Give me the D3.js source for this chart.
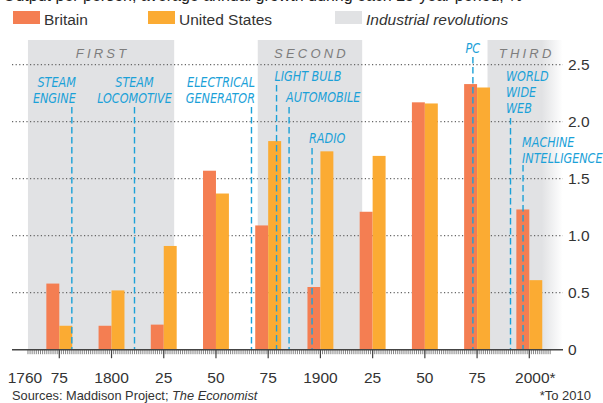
<!DOCTYPE html>
<html>
<head>
<meta charset="utf-8">
<script src="https://cdn.jsdelivr.net/npm/d3@7"></script>
<style>
  body { margin: 0; background: #fff; }
  svg { display: block; }
  text { font-family: "Liberation Sans", Arial, sans-serif; }
  .narrow { font-family: "DejaVu Sans Condensed", "DejaVu Sans", sans-serif; }
</style>
</head>
<body>
<svg id="chart" width="603" height="403"></svg>
<script>
// data: average annual growth of GDP per person, % (25-year periods)
var periods = [1775, 1800, 1825, 1850, 1875, 1900, 1925, 1950, 1975, 2000];
var britain = [0.58, 0.21, 0.22, 1.57, 1.09, 0.55, 1.21, 2.17, 2.33, 1.23];
var unitedStates = [0.21, 0.52, 0.91, 1.37, 1.83, 1.74, 1.70, 2.16, 2.30, 0.61];

// industrial revolutions (years)
var revNames = ["FIRST", "SECOND", "THIRD"];
var revStart = [1760, 1870, 1980];
var revEnd = [1830, 1920, 2016];

// innovations
var innovNames = [["STEAM", "ENGINE"], ["STEAM", "LOCOMOTIVE"], ["ELECTRICAL", "GENERATOR"],
  ["LIGHT BULB"], ["AUTOMOBILE"], ["RADIO"], ["PC"], ["WORLD", "WIDE", "WEB"],
  ["MACHINE", "INTELLIGENCE"]];
var innovYears = [1781, 1811, 1867, 1879, 1885, 1896, 1973, 1991, 1997];

var yTicks = [0, 0.5, 1, 1.5, 2, 2.5];
var xTicks = [1775, 1800, 1825, 1850, 1875, 1900, 1925, 1950, 1975, 2000];
var xTickLabels = ["75", "1800", "25", "50", "75", "1900", "25", "50", "75", "2000*"];

// label placement for innovations: text anchor, x offset, first baseline, dash top
var innovLayout = [
  { anchor: "end", dx: 4, base: 87, top: 107 },
  { anchor: "middle", dx: 0, base: 87, top: 107 },
  { anchor: "end", dx: 3.5, base: 87, top: 107 },
  { anchor: "start", dx: -2, base: 81.5, top: 85 },
  { anchor: "start", dx: -3, base: 102.5, top: 107 },
  { anchor: "start", dx: -3, base: 143, top: 148 },
  { anchor: "middle", dx: 0, base: 53, top: 57 },
  { anchor: "start", dx: -4.5, base: 81, top: 118 },
  { anchor: "start", dx: -1, base: 147, top: 165 }
];
var squeeze = 0.86;  // the original labels use a narrow face

var colBritain = "#f47e52", colUS = "#fbab33", colShade = "#e1e2e4", colBlue = "#1ba1d8";

var svg = d3.select("#chart");

var x = d3.scaleLinear().domain([1775, 2000]).range([59.3, 529.3]);
var y = d3.scaleLinear().domain([0, 2.5]).range([349.7, 64.7]);
var barYears = 6.2;

// subtitle, cut off by the top edge of the crop
svg.append("text")
  .attr("x", 3).attr("y", 0.5)
  .attr("font-size", 16).attr("fill", "#222")
  .text("Output per person, average annual growth during each 25-year period, %");

// legend
var legend = [
  { label: "Britain", color: colBritain, x: 13, italic: false },
  { label: "United States", color: colUS, x: 148, italic: false },
  { label: "Industrial revolutions", color: colShade, x: 335, italic: true }
];
var lg = svg.append("g").selectAll("g").data(legend).enter().append("g");
lg.append("rect")
  .attr("x", function(d) { return d.x; }).attr("y", 11)
  .attr("width", 27).attr("height", 13)
  .attr("fill", function(d) { return d.color; });
lg.append("text")
  .attr("x", function(d) { return d.x + 31; }).attr("y", 24.5)
  .attr("font-size", 15.5).attr("fill", "#333")
  .attr("font-style", function(d) { return d.italic ? "italic" : "normal"; })
  .text(function(d) { return d.label; });

// gradient for the third (ongoing) revolution
var defs = svg.append("defs");
var grad = defs.append("linearGradient").attr("id", "fade")
  .attr("x1", "0%").attr("x2", "100%").attr("y1", "0%").attr("y2", "0%");
grad.append("stop").attr("offset", "0%").attr("stop-color", colShade).attr("stop-opacity", 1);
grad.append("stop").attr("offset", "72%").attr("stop-color", colShade).attr("stop-opacity", 1);
grad.append("stop").attr("offset", "100%").attr("stop-color", colShade).attr("stop-opacity", 0);

// shaded revolutions
var shadeTop = 40;
var rev = svg.append("g").selectAll("g").data(revNames).enter().append("g");
rev.append("rect")
  .attr("x", function(d, i) { return x(revStart[i]); })
  .attr("y", shadeTop)
  .attr("width", function(d, i) { return x(revEnd[i]) - x(revStart[i]); })
  .attr("height", y(0) - shadeTop)
  .attr("fill", function(d, i) { return i === 2 ? "url(#fade)" : colShade; });
rev.append("text")
  .attr("x", function(d, i) { return (x(revStart[i]) + x(revEnd[i])) / 2 + 1.5; })
  .attr("y", 57.5)
  .attr("text-anchor", "middle")
  .attr("font-size", 13).attr("font-style", "italic")
  .attr("letter-spacing", 3.2).attr("fill", "#7d7d7d")
  .text(function(d) { return d; });

// dotted gridlines
svg.append("g").selectAll("line")
  .data(yTicks.filter(function(t) { return t > 0; }))
  .enter().append("line")
  .attr("x1", 12).attr("x2", 563)
  .attr("y1", function(d) { return y(d); }).attr("y2", function(d) { return y(d); })
  .attr("stroke", "#666").attr("stroke-width", 1.2)
  .attr("stroke-dasharray", "1.2,2.4");

// bars
var bars = svg.append("g");
bars.selectAll(".gb").data(britain).enter().append("rect")
  .attr("class", "gb")
  .attr("x", function(d, i) { return x(periods[i] - barYears); })
  .attr("width", function(d, i) { return x(periods[i]) - x(periods[i] - barYears); })
  .attr("y", function(d) { return y(d); })
  .attr("height", function(d) { return y(0) - y(d); })
  .attr("fill", colBritain);
bars.selectAll(".us").data(unitedStates).enter().append("rect")
  .attr("class", "us")
  .attr("x", function(d, i) { return x(periods[i]); })
  .attr("width", function(d, i) { return x(periods[i] + barYears) - x(periods[i]); })
  .attr("y", function(d) { return y(d); })
  .attr("height", function(d) { return y(0) - y(d); })
  .attr("fill", colUS);

// innovations: dashed lines + labels
var inn = svg.append("g").selectAll("g").data(innovYears).enter().append("g");
inn.append("line")
  .attr("x1", function(d) { return x(d); }).attr("x2", function(d) { return x(d); })
  .attr("y1", function(d, i) { return innovLayout[i].top; })
  .attr("y2", y(0))
  .attr("stroke", colBlue).attr("stroke-width", 1.4)
  .attr("stroke-dasharray", "6.5,3.5");
inn.each(function(d, i) {
  var L = innovLayout[i];
  var ax = x(d) + L.dx;
  var t = d3.select(this).append("text")
    .attr("class", "narrow")
    .attr("text-anchor", L.anchor)
    .attr("transform", "translate(" + ax + ",0) scale(" + squeeze + ",1)")
    .attr("font-size", 14.5).attr("font-style", "italic")
    .attr("fill", colBlue);
  innovNames[i].forEach(function(line, k) {
    t.append("tspan")
      .attr("x", 0)
      .attr("y", L.base + k * 16)
      .text(line);
  });
});

// x axis
var axisY = y(0);
var yearTicks = d3.range(1760, 2011);
svg.append("g").selectAll("line").data(yearTicks).enter().append("line")
  .attr("x1", function(d) { return x(d); }).attr("x2", function(d) { return x(d); })
  .attr("y1", axisY).attr("y2", axisY + 4.5)
  .attr("stroke", "#777").attr("stroke-width", 0.9);
svg.append("g").selectAll("line").data(xTicks).enter().append("line")
  .attr("x1", function(d) { return x(d); }).attr("x2", function(d) { return x(d); })
  .attr("y1", axisY).attr("y2", axisY + 8.5)
  .attr("stroke", "#444").attr("stroke-width", 1.2);
svg.append("line")
  .attr("x1", 12).attr("x2", 563)
  .attr("y1", axisY).attr("y2", axisY)
  .attr("stroke", "#444").attr("stroke-width", 1.6);

svg.append("g").selectAll("text").data(xTicks).enter().append("text")
  .attr("x", function(d, i) { return x(d) + (i === xTicks.length - 1 ? 6 : 0); })
  .attr("y", 383)
  .attr("text-anchor", "middle")
  .attr("font-size", 15.5).attr("fill", "#333")
  .text(function(d, i) { return xTickLabels[i]; });
svg.append("text")
  .attr("x", 25).attr("y", 383)
  .attr("text-anchor", "middle")
  .attr("font-size", 15.5).attr("fill", "#333")
  .text("1760");

// y axis labels on the right
svg.append("g").selectAll("text").data(yTicks).enter().append("text")
  .attr("x", 568).attr("y", function(d) { return y(d) + 5.5; })
  .attr("font-size", 15.5).attr("fill", "#333")
  .text(function(d) { return d === 0 ? "0" : d3.format(".1f")(d); });

// footer
var src = svg.append("text")
  .attr("x", 12).attr("y", 400)
  .attr("font-size", 12.8).attr("fill", "#333");
src.append("tspan").text("Sources: Maddison Project; ");
src.append("tspan").attr("font-style", "italic").text("The Economist");
svg.append("text")
  .attr("x", 591).attr("y", 400)
  .attr("text-anchor", "end")
  .attr("font-size", 13).attr("fill", "#333")
  .text("*To 2010");
</script>
</body>
</html>
